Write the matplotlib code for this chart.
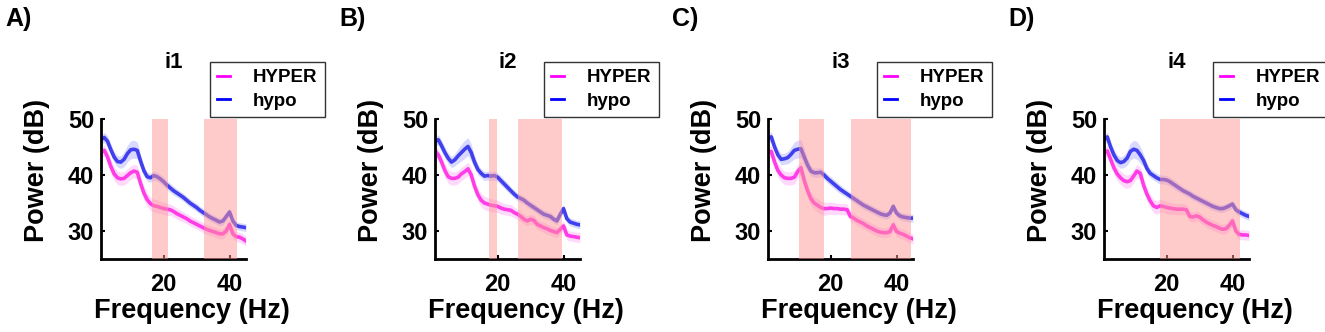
import numpy as np
import matplotlib
matplotlib.use("Agg")
import matplotlib.pyplot as plt
from matplotlib.lines import Line2D

plt.rcParams["font.family"] = ["Liberation Sans", "DejaVu Sans"]
plt.rcParams["font.weight"] = "bold"

# Frequency axis (Hz)
freqs = np.arange(1, 46)

panel_labels = ["A)", "B)", "C)", "D)"]
titles = ["i1", "i2", "i3", "i4"]
legend_labels = ["HYPER", "hypo"]

# Mean power (dB) per channel, HYPER group
hyper_i1 = [44.0, 44.4, 43.2, 41.5, 40.2, 39.5, 39.3, 39.4, 39.9, 40.4, 40.7, 40.5, 38.5, 36.8, 35.6,
            34.9, 34.5, 34.4, 34.2, 34.0, 33.9, 33.8, 33.5, 33.1, 32.8, 32.5, 32.2, 31.8, 31.5, 31.2,
            30.9, 30.6, 30.3, 30.1, 29.9, 29.7, 29.5, 29.5, 30.0, 31.2, 29.5, 29.0, 28.9, 28.6, 28.2]
hyper_i2 = [44.3, 43.6, 42.3, 40.8, 39.7, 39.4, 39.4, 39.6, 40.2, 40.6, 41.1, 40.0, 38.0, 36.5, 35.5,
            35.0, 34.8, 34.6, 34.5, 34.4, 34.1, 33.9, 33.8, 33.7, 33.3, 33.0, 32.6, 32.1, 31.8, 32.1,
            31.9, 31.2, 30.9, 30.6, 30.4, 30.1, 29.9, 29.7, 30.3, 30.9, 29.3, 29.1, 29.0, 28.9, 28.8]
hyper_i3 = [44.1, 44.2, 42.3, 40.8, 40.0, 39.5, 39.4, 39.4, 39.6, 40.6, 41.3, 39.0, 37.2, 35.8, 35.0,
            34.6, 34.2, 34.0, 34.0, 34.1, 34.0, 34.0, 33.9, 33.9, 33.8, 32.6, 32.3, 31.9, 31.6, 31.3,
            30.9, 30.6, 30.3, 30.0, 29.8, 29.7, 29.7, 29.9, 31.1, 29.9, 29.6, 29.4, 29.1, 28.8, 28.6]
hyper_i4 = [44.0, 44.3, 42.8, 41.3, 40.2, 39.5, 39.0, 38.8, 39.0, 39.8, 40.7, 40.3, 38.2, 36.6, 35.4,
            34.5, 34.2, 34.5, 34.4, 34.2, 34.1, 34.0, 33.9, 33.9, 33.9, 33.8, 32.6, 32.5, 32.7, 32.5,
            32.0, 31.6, 31.3, 31.0, 30.8, 30.5, 30.3, 30.4, 31.0, 31.8, 30.0, 29.4, 29.3, 29.3, 29.2]

# Mean power (dB) per channel, hypo group
hypo_i1 = [46.3, 46.7, 46.0, 44.5, 43.2, 42.4, 42.3, 42.8, 43.8, 44.5, 44.6, 44.4, 42.5, 40.8, 39.7,
           39.5, 39.9, 39.7, 39.3, 38.8, 38.2, 37.7, 37.2, 36.8, 36.4, 36.0, 35.5, 35.0, 34.6, 34.2,
           33.7, 33.3, 32.9, 32.5, 32.2, 31.9, 31.6, 31.8, 32.6, 33.4, 31.8, 31.0, 30.8, 30.7, 30.6]
hypo_i2 = [46.0, 46.3, 45.2, 44.0, 43.0, 42.3, 42.7, 43.4, 44.0, 44.6, 45.1, 44.0, 42.3, 41.0, 40.3,
           39.8, 39.9, 39.8, 39.9, 39.6, 39.0, 38.4, 37.8, 37.2, 36.6, 36.1, 35.8, 35.5, 35.0, 34.6,
           34.2, 33.8, 33.4, 33.0, 32.8, 32.6, 32.1, 31.8, 33.0, 34.0, 32.2, 31.6, 31.4, 31.2, 31.1]
hypo_i3 = [46.6, 46.8, 45.0, 43.6, 42.8, 42.9, 43.1, 43.7, 44.4, 44.6, 44.7, 43.2, 41.8, 40.7, 40.4,
           40.4, 40.5, 40.0, 39.4, 38.9, 38.4, 37.9, 37.4, 37.0, 36.6, 36.2, 35.8, 35.4, 35.0, 34.6,
           34.3, 34.0, 33.7, 33.4, 33.1, 32.9, 32.8, 33.2, 34.4, 33.2, 32.7, 32.5, 32.4, 32.3, 32.3]
hypo_i4 = [46.3, 46.8, 45.0, 43.6, 42.6, 42.2, 42.4, 43.0, 44.2, 44.6, 44.4, 43.6, 42.6, 41.2, 40.3,
           39.9, 39.5, 39.2, 39.2, 39.1, 38.8, 38.4, 38.0, 37.6, 37.2, 36.9, 36.6, 36.2, 35.9, 35.6,
           35.3, 35.0, 34.7, 34.4, 34.2, 34.0, 34.0, 34.2, 34.5, 34.8, 33.8, 33.4, 33.1, 32.8, 32.6]

# Standard error (dB), read roughly from the band widths
sem_hyper = [0.9, 1.0, 1.1, 1.2, 1.2, 1.2, 1.2, 1.2, 1.2, 1.2, 1.2, 1.2, 1.2, 1.2, 1.2,
             1.2, 1.2, 1.2, 1.1, 1.1, 1.1, 1.0, 1.0, 1.0, 1.0, 0.9, 0.9, 0.9, 0.9, 0.9,
             0.9, 0.9, 0.9, 0.9, 0.9, 0.9, 0.9, 0.9, 0.9, 0.9, 0.9, 0.9, 0.9, 0.9, 0.9]
sem_hypo = [0.8, 0.9, 1.0, 1.0, 1.0, 1.0, 1.1, 1.3, 1.5, 1.6, 1.6, 1.5, 1.1, 0.9, 0.8,
            0.8, 0.8, 0.8, 0.8, 0.8, 0.8, 0.8, 0.8, 0.7, 0.7, 0.7, 0.7, 0.7, 0.7, 0.7,
            0.7, 0.7, 0.7, 0.7, 0.7, 0.7, 0.7, 0.7, 0.7, 0.7, 0.7, 0.7, 0.7, 0.7, 0.7]

# Significant frequency ranges (Hz) per channel
sig_i1 = [(16.5, 21.3), (32.2, 42.2)]
sig_i2 = [(17.4, 19.8), (26.2, 39.5)]
sig_i3 = [(10.4, 18.0), (26.2, 44.3)]
sig_i4 = [(18.0, 42.2)]

hyper_all = [hyper_i1, hyper_i2, hyper_i3, hyper_i4]
hypo_all = [hypo_i1, hypo_i2, hypo_i3, hypo_i4]
sig_all = [sig_i1, sig_i2, sig_i3, sig_i4]

W, H = 1325, 332
fig = plt.figure(figsize=(W / 100, H / 100), dpi=100)

ax_left_px = [101, 435, 768, 1104]
ax_w, ax_h, ax_bottom = 145, 140, 73

c_hyper = "#ff3ce6"
c_hypo = "#4040ee"

for i in range(4):
    ax = fig.add_axes([ax_left_px[i] / W, ax_bottom / H, ax_w / W, ax_h / H])
    hy = np.array(hyper_all[i])
    ho = np.array(hypo_all[i])
    se1 = np.array(sem_hyper)
    se2 = np.array(sem_hypo)

    ax.fill_between(freqs, ho - se2, ho + se2, color="#3030ff", alpha=0.18, lw=0)
    ax.fill_between(freqs, hy - se1, hy + se1, color="#ff30f0", alpha=0.18, lw=0)
    ax.plot(freqs, ho, color=c_hypo, lw=2.6)
    ax.plot(freqs, hy, color=c_hyper, lw=2.6)

    # significance shading sits on top of the curves
    for lo, hi in sig_all[i]:
        ax.axvspan(lo, hi, color="#ff9696", alpha=0.5, lw=0, zorder=3)

    ax.set_xlim(1, 45)
    ax.set_ylim(25, 50)
    ax.set_xticks([20, 40])
    ax.set_yticks([30, 40, 50])
    ax.tick_params(direction="in", length=3, width=1.5, labelsize=17)
    ax.tick_params(axis="x", pad=10)
    ax.tick_params(axis="y", pad=5)
    for lab in ax.get_xticklabels() + ax.get_yticklabels():
        lab.set_fontweight("bold")
    for s in ["top", "right"]:
        ax.spines[s].set_visible(False)
    for s in ["left", "bottom"]:
        ax.spines[s].set_linewidth(2)

    ax.text(0.5, 1.40, titles[i], transform=ax.transAxes, ha="center", va="center",
            fontsize=16, fontweight="bold")
    ax.text(0.63, -0.37, "Frequency (Hz)", transform=ax.transAxes, ha="center", va="center",
            fontsize=19.5, fontweight="bold")
    ax.text(-0.44, 0.636, "Power (dB)", transform=ax.transAxes, ha="center", va="center",
            rotation=90, fontsize=19.5, fontweight="bold")

    handles = [Line2D([], [], color="#ff00ff", lw=2), Line2D([], [], color="#0000ff", lw=2)]
    leg = ax.legend(handles, legend_labels, loc="upper left", bbox_to_anchor=(0.75, 1.41),
                    borderaxespad=0, frameon=True, fancybox=False, handlelength=0.7,
                    handletextpad=1.2, borderpad=0.4, labelspacing=0.35,
                    prop={"size": 13.5, "weight": "bold"})
    leg.get_frame().set_edgecolor("black")
    leg.get_frame().set_linewidth(1.0)

    fig.text((ax_left_px[i] - 96) / W, 1 - 19 / H, panel_labels[i], ha="left", va="center",
             fontsize=18, fontweight="bold")

fig.savefig("out.png", dpi=100)
